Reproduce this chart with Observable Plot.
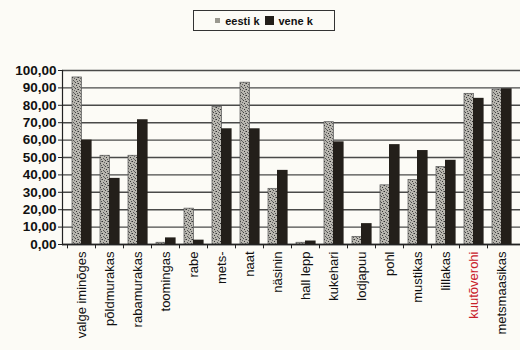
<!DOCTYPE html>
<html>
<head>
<meta charset="utf-8">
<script src="https://cdn.jsdelivr.net/npm/d3@7"></script>
<script src="https://cdn.jsdelivr.net/npm/@observablehq/plot@0.6"></script>
<style>
  html, body { margin: 0; padding: 0; background: #fcfbf6; }
  #legend { height: 40px; position: relative; font-family: "Liberation Sans", Arial, sans-serif; }
  #legend .box { position: absolute; left: 193px; top: 10px; width: 140px; height: 19px; border: 1px solid #333;
    display: flex; align-items: center; justify-content: center; gap: 5px; font-weight: bold; font-size: 11px; color: #111; }
  .sw1 { width: 5px; height: 5px; background: #9a988f; display: inline-block; }
  .sw2 { width: 9px; height: 9px; background: #231f1a; display: inline-block; }
</style>
</head>
<body>
<div id="legend"><div class="box"><span class="sw1"></span><span>eesti k</span><span class="sw2"></span><span>vene k</span></div></div>
<div id="chart"></div>
<script>
const categories = ["valge iminõges", "põldmurakas", "rabamurakas", "toomingas", "rabe", "mets-", "naat", "näsinin",
  "hall lepp", "kukehari", "lodjapuu", "pohl", "mustikas", "lillakas", "kuutõverohi", "metsmaasikas"];
const eesti = [96, 51, 51, 1, 20.6, 79, 93, 32, 1, 70.3, 4.4, 34, 37, 44.5, 86.6, 89];
const vene  = [60, 38, 71.7, 3.8, 2.5, 66.5, 66.5, 42.6, 2, 59, 12, 57.4, 54, 48.4, 84, 89.5];
const yTicks = [0, 10, 20, 30, 40, 50, 60, 70, 80, 90, 100];
const redLabel = "kuutõverohi";

const rows = categories.map((c, i) => ({c, eesti: eesti[i], vene: vene[i]}));
const fmt = d => d.toFixed(2).replace(".", ",");

const chart = Plot.plot({
  width: 520,
  height: 310,
  marginLeft: 62,
  marginRight: 0,
  marginTop: 30,
  marginBottom: 106,
  style: {background: "transparent", fontFamily: "'Liberation Sans', Arial, sans-serif", color: "#111"},
  x: {domain: categories, paddingInner: 0, paddingOuter: 0.15},
  y: {domain: [0, 100]},
  marks: [
    Plot.gridY(yTicks, {stroke: "#2a2a2a", strokeOpacity: 0.85, strokeWidth: 1.4}),
    Plot.barY(rows, {x: "c", y: "eesti", fill: "url(#stip)", stroke: "#555", strokeWidth: 0.7, insetLeft: 5, insetRight: 13.6}),
    Plot.barY(rows, {x: "c", y: "vene", fill: "#231f1a", insetLeft: 14, insetRight: 3.4}),
    Plot.ruleY([0], {stroke: "#222", strokeWidth: 1.5}),
    Plot.ruleX(categories, {x: d => d, y1: 0, y2: -2.5, dx: -14, stroke: "#222"}),
    Plot.frame({anchor: "left", stroke: "#222", strokeWidth: 1.2}),
    Plot.axisY(yTicks, {tickFormat: fmt, tickSize: 4, tickPadding: 2, fontSize: 13.5, fontWeight: "bold", stroke: "#222"}),
    Plot.axisX({tickRotate: -90, tickSize: 0, tickPadding: 7, fontSize: 13, label: null,
      fill: d => d === redLabel ? "#c8202a" : "#111"})
  ]
});

const ns = "http://www.w3.org/2000/svg";
const defs = document.createElementNS(ns, "defs");
defs.innerHTML = `<pattern id="stip" width="6" height="6" patternUnits="userSpaceOnUse">
  <rect width="6" height="6" fill="#b9b7b0"/>
  <rect x="0" y="1" width="1" height="1" fill="#333"/>
  <rect x="3" y="0" width="1" height="1" fill="#444"/>
  <rect x="4" y="3" width="1" height="1" fill="#333"/>
  <rect x="1" y="4" width="1" height="1" fill="#555"/>
  <rect x="2" y="2" width="1" height="1" fill="#666"/>
  <rect x="5" y="5" width="1" height="1" fill="#555"/>
  <rect x="5" y="1" width="1" height="1" fill="#777"/>
  <rect x="2" y="5" width="1" height="1" fill="#666"/>
</pattern>`;
chart.insertBefore(defs, chart.firstChild);
document.getElementById("chart").appendChild(chart);
</script>
</body>
</html>
